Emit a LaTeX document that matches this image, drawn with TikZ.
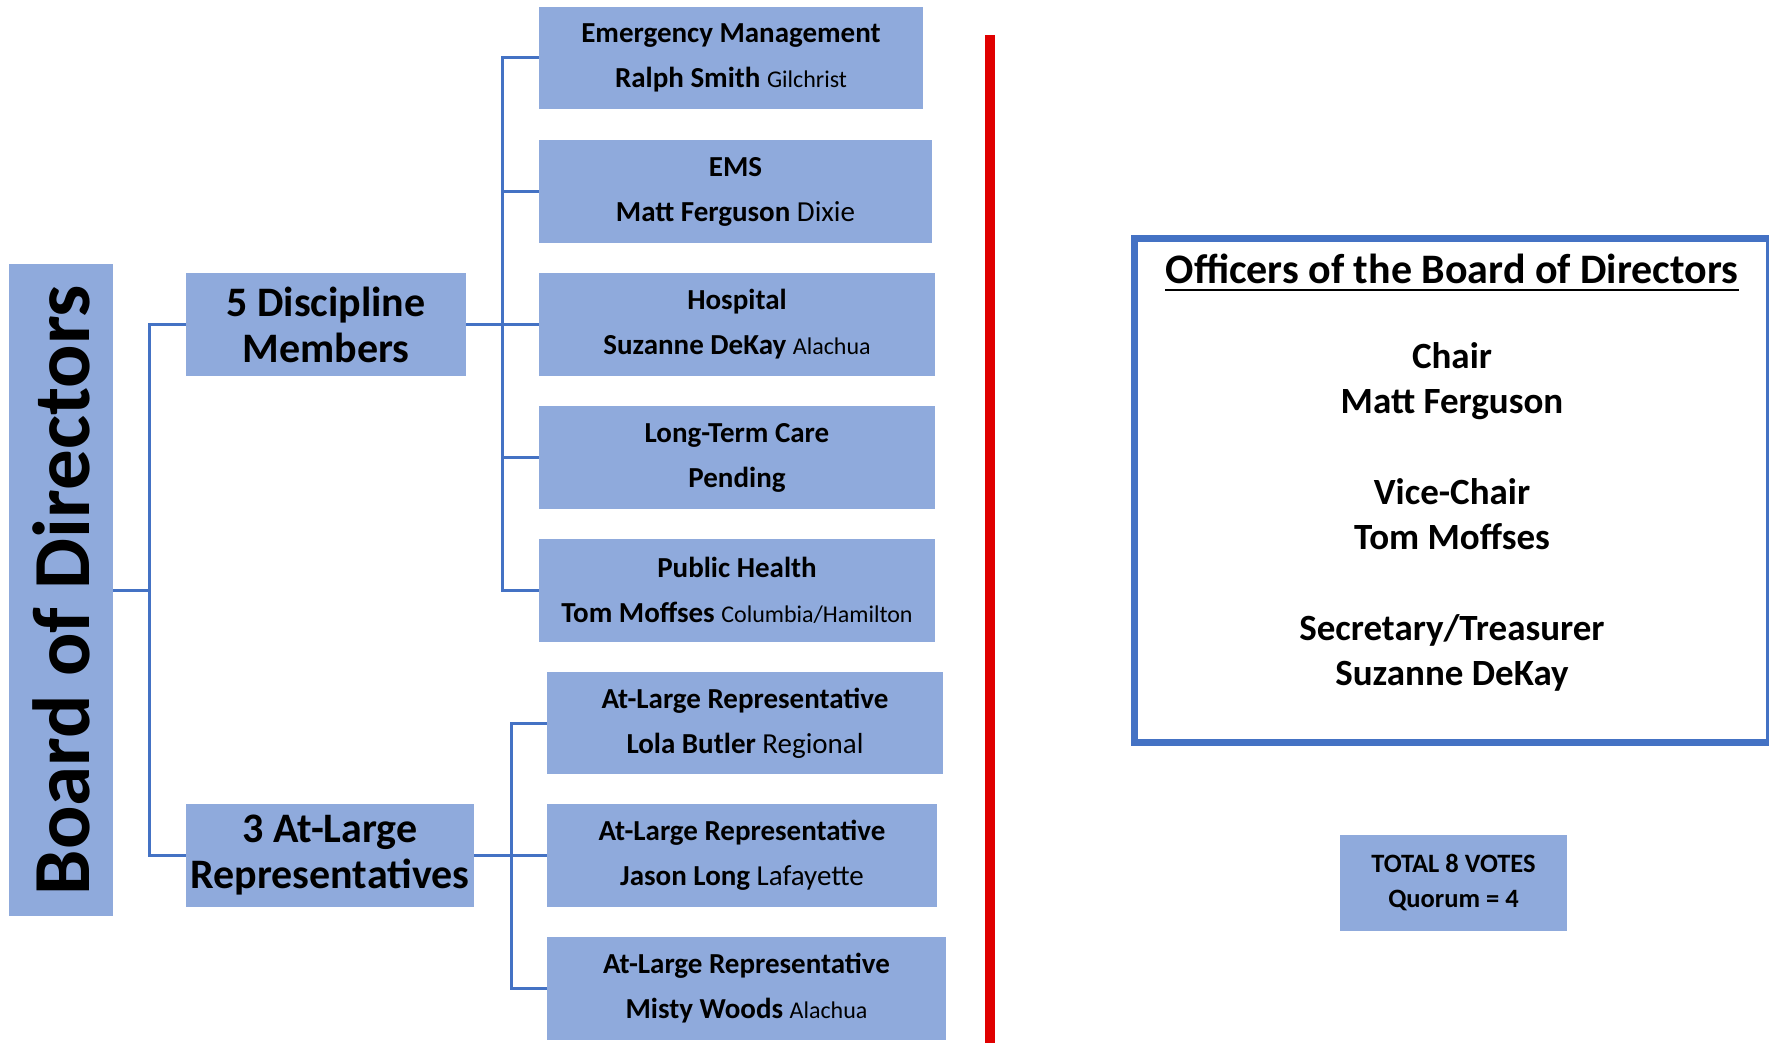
\documentclass[tikz,border=0pt]{standalone}
\usepackage{fontspec}
\setmainfont{Carlito}
\usepackage{xcolor}

\definecolor{boxblue}{RGB}{143,170,220}
\definecolor{linkblue}{RGB}{68,114,196}
\definecolor{barred}{RGB}{224,0,0}

% county names set in the lighter, smaller face
\newcommand{\place}[1]{{\mdseries\fontsize{24}{45}\selectfont #1}}

\begin{document}
\begin{tikzpicture}[x=1pt, y=-1pt,
    n/.style={fill=boxblue, inner sep=0pt, align=center, font=\bfseries\fontsize{29}{45}\selectfont},
    grp/.style={n, font=\bfseries\fontsize{42}{46}\selectfont, minimum height=103pt},
    link/.style={draw=linkblue, line width=3pt},
    txt/.style={inner sep=0pt, align=center, font=\bfseries\fontsize{37}{45}\selectfont}]
            \useasboundingbox (0,0) rectangle (1769,1043);

            \node[n, rotate=90, font=\bfseries\fontsize{81}{81}\selectfont,
                minimum width=652pt, minimum height=104pt] (board) at (61,590) {Board of Directors};

            \node[grp, minimum width=280pt] (disc) at (326,324.5) {5 Discipline\\Members};
            \node[grp, minimum width=288pt] (atl) at (330,855.5) {3 At-Large\\Representatives};

            \node[n, minimum width=384pt, minimum height=102pt] (em) at (731,58) {Emergency Management\\Ralph Smith \place{Gilchrist}};
            \node[n, minimum width=393pt, minimum height=103pt] (ems) at (735.5,191.5) {EMS\\Matt Ferguson \textmd{Dixie}};
            \node[n, minimum width=396pt, minimum height=103pt] (hosp) at (737,324.5) {Hospital\\Suzanne DeKay \place{Alachua}};
            \node[n, minimum width=396pt, minimum height=103pt] (ltc) at (737,457.5) {Long-Term Care\\Pending};
            \node[n, minimum width=396pt, minimum height=103pt] (ph) at (737,590.5) {Public Health\\Tom Moffses \place{Columbia/Hamilton}};

            \node[n, minimum width=396pt, minimum height=102pt] (al1) at (745,723) {At-Large Representative\\Lola Butler \textmd{Regional}};
            \node[n, minimum width=390pt, minimum height=103pt] (al2) at (742,855.5) {At-Large Representative\\Jason Long \textmd{Lafayette}};
            \node[n, minimum width=399pt, minimum height=103pt] (al3) at (746.5,988.5) {At-Large Representative\\Misty Woods \place{Alachua}};

            \coordinate (j0) at (149,590);
            \coordinate (j1) at (502,324.5);
            \coordinate (j2) at (511,855.5);

            \draw[link] (board.south) -- (j0);
            \draw[link] (j0) |- (disc.west);
            \draw[link] (j0) |- (atl.west);

            \draw[link] (disc.east) -- (j1);
            \draw[link] (j1) |- (em.west);
            \draw[link] (j1) |- (ems.west);
            \draw[link] (j1) |- (hosp.west);
            \draw[link] (j1) |- (ltc.west);
            \draw[link] (j1) |- (ph.west);

            \draw[link] (atl.east) -- (j2);
            \draw[link] (j2) |- (al1.west);
            \draw[link] (j2) |- (al2.west);
            \draw[link] (j2) |- (al3.west);

            % red divider
            \coordinate (rt) at (990,35);
            \coordinate (rb) at (990,1043);
            \draw[draw=barred, line width=10pt] (rt) -- (rb);

            % officers
            \node[draw=linkblue, line width=7pt, minimum width=634.5pt, minimum height=504pt] (off) at (1451.75,490.5) {};
            \node[txt, font=\bfseries\fontsize{42}{46}\selectfont, anchor=base] (ttl) at (1452,283) {Officers of the Board of Directors};
            \draw[line width=2.5pt] ([yshift=-7pt]ttl.base west) -- ([yshift=-7pt]ttl.base east);
            \node[txt] (list) at (1452,517) {Chair\\Matt Ferguson\\[46pt]Vice-Chair\\Tom Moffses\\[46pt]Secretary/Treasurer\\Suzanne DeKay};

            \node[n, font=\bfseries\fontsize{26.5}{35}\selectfont, minimum width=227pt, minimum height=96pt] (tot) at (1453.5,883) {TOTAL 8 VOTES\\Quorum = 4};
        \end{tikzpicture}
\end{document}
